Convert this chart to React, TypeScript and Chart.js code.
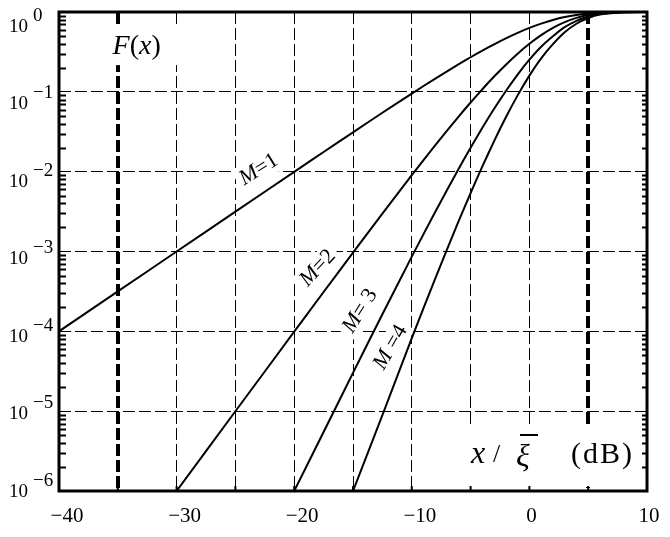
import React, { useEffect, useRef } from 'react';
import { Chart, registerables } from 'chart.js';

Chart.register(...registerables);

// x / xi-bar in dB
const DB = [-40, -35, -30, -25, -20, -17.5, -15, -12.5, -10, -8, -6, -5, -4, -3, -2, -1, 0, 1, 2, 3, 4, 5, 6, 8, 10];
const M1 = [1.0e-4, 3.16e-4, 1.0e-3, 3.16e-3, 9.95e-3, 1.763e-2, 3.11e-2, 5.47e-2, 9.52e-2, 0.1466, 0.2221, 0.2711, 0.3284, 0.3942, 0.4679, 0.5481, 0.6321, 0.7161, 0.7951, 0.864, 0.9189, 0.9577, 0.9813, 0.9982, 0.99995];
const M2 = [null, null, 1.0e-6, 9.97e-6, 9.9e-5, 3.11e-4, 9.69e-4, 2.99e-3, 9.06e-3, 2.148e-2, 4.935e-2, 7.351e-2, 0.1078, 0.1554, 0.2189, 0.3005, 0.3996, 0.5128, 0.6321, 0.7466, 0.8443, 0.9171, 0.963, 0.9964, 0.9999];
const M3 = [null, null, null, null, 1.0e-6, 5.48e-6, 3.02e-5, 1.635e-4, 8.62e-4, 3.15e-3, 1.096e-2, 1.993e-2, 3.541e-2, 6.125e-2, 0.1025, 0.1647, 0.2526, 0.3672, 0.497, 0.645, 0.7758, 0.8783, 0.945, 0.9946, 0.99985];
const M4 = [null, null, null, null, null, null, 1.0e-6, 8.94e-6, 8.2e-5, 4.62e-4, 2.435e-3, 5.4e-3, 1.163e-2, 2.415e-2, 4.794e-2, 9.03e-2, 0.1597, 0.2629, 0.3951, 0.5573, 0.7129, 0.8411, 0.9274, 0.9927, 0.9998];

const SERIES = [M1, M2, M3, M4];
const CURVE_LABELS = ['M=1', 'M=2', 'M= 3', 'M =4'];
// label anchor (dB, F) and text angle (deg)
const LABEL_X = [-23, -18, -14.4, -11.8];
const LABEL_Y = [1.06e-2, 6.2e-4, 1.8e-4, 6.3e-5];
const LABEL_ANGLE = [-32, -47, -58, -60];

const X_MIN = -40;
const X_MAX = 10;
const X_STEP = 5;
const X_LABELS = [-40, -30, -20, -10, 0, 10];
const THICK_X = [-35, 5];
const Y_DECADES = [1e-6, 1e-5, 1e-4, 1e-3, 1e-2, 1e-1, 1];
const Y_EXP = ['−6', '−5', '−4', '−3', '−2', '−1', '0'];

const SERIF = '"Liberation Serif", "Times New Roman", serif';

function drawPieces(ctx: CanvasRenderingContext2D, pieces: { t: string; f: string }[], cx: number, cy: number, angleDeg: number, bg: boolean) {
  ctx.save();
  ctx.translate(cx, cy);
  ctx.rotate((angleDeg * Math.PI) / 180);
  let w = 0;
  const widths = pieces.map((p) => {
    ctx.font = p.f;
    const m = ctx.measureText(p.t).width;
    w += m;
    return m;
  });
  if (bg) {
    ctx.fillStyle = '#fff';
    ctx.fillRect(-w / 2 - 4, -12, w + 8, 24);
  }
  ctx.fillStyle = '#000';
  ctx.textBaseline = 'middle';
  ctx.textAlign = 'left';
  let x = -w / 2;
  pieces.forEach((p, i) => {
    ctx.font = p.f;
    ctx.fillText(p.t, x, 0);
    x += widths[i];
  });
  ctx.restore();
}

const decoPlugin = {
  id: 'deco',
  beforeDatasetsDraw(chart: any) {
    const { ctx, chartArea: a, scales } = chart;
    const xs = scales.x;
    const ys = scales.y;
    ctx.save();
    // F(x) label
    const fx = xs.getPixelForValue(-33.4);
    const fy = ys.getPixelForValue(Math.pow(10, -0.44));
    ctx.fillStyle = '#fff';
    ctx.fillRect(fx - 26, fy - 20, 70, 38);
    drawPieces(ctx, [
      { t: 'F', f: `italic 28px ${SERIF}` },
      { t: '(', f: `28px ${SERIF}` },
      { t: 'x', f: `italic 28px ${SERIF}` },
      { t: ')', f: `28px ${SERIF}` },
    ], fx, fy, 0, false);

    // curve labels
    SERIES.forEach((_, i) => {
      const px = xs.getPixelForValue(LABEL_X[i]);
      const py = ys.getPixelForValue(LABEL_Y[i]);
      const txt = CURVE_LABELS[i];
      const pieces = [
        { t: 'M', f: `italic 22px ${SERIF}` },
        { t: txt.slice(1), f: `22px ${SERIF}` },
      ];
      drawPieces(ctx, pieces, px, py, LABEL_ANGLE[i], true);
    });

    // axis title box bottom-right
    ctx.fillStyle = '#fff';
    ctx.fillRect(a.right - 200, a.bottom - 63, 200, 59);
    const base = a.bottom - 28;
    ctx.fillStyle = '#000';
    ctx.textBaseline = 'alphabetic';
    ctx.textAlign = 'left';
    ctx.font = `italic 32px ${SERIF}`;
    ctx.fillText('x', a.right - 176, base);
    ctx.font = `26px ${SERIF}`;
    ctx.fillText('/', a.right - 154, base - 1);
    ctx.font = `italic 32px ${SERIF}`;
    ctx.fillText('ξ', a.right - 131, base + 3);
    ctx.lineWidth = 2;
    ctx.strokeStyle = '#000';
    ctx.beginPath();
    ctx.moveTo(a.right - 127, base - 28);
    ctx.lineTo(a.right - 109, base - 28);
    ctx.stroke();
    ctx.font = `30px ${SERIF}`;
    (ctx as any).letterSpacing = '2px';
    ctx.fillText('(dB)', a.right - 76, base);
    (ctx as any).letterSpacing = '0px';
    ctx.restore();
  },
  afterDraw(chart: any) {
    const { ctx, chartArea: a, scales } = chart;
    const xs = scales.x;
    const ys = scales.y;
    ctx.save();
    ctx.setLineDash([]);
    ctx.strokeStyle = '#000';
    // minor ticks on left and right
    ctx.lineWidth = 2;
    ctx.beginPath();
    for (let e = -6; e < 0; e++) {
      for (let k = 2; k <= 9; k++) {
        const py = Math.round(ys.getPixelForValue(k * Math.pow(10, e))) + 0.5;
        ctx.moveTo(a.left, py);
        ctx.lineTo(a.left + 7, py);
        ctx.moveTo(a.right, py);
        ctx.lineTo(a.right - 5, py);
      }
    }
    // bottom ticks
    for (let v = X_MIN + X_STEP; v < X_MAX; v += X_STEP) {
      const px = xs.getPixelForValue(v);
      ctx.moveTo(px, a.bottom);
      ctx.lineTo(px, a.bottom - 5);
    }
    ctx.stroke();
    // frame
    ctx.lineWidth = 3;
    ctx.strokeRect(a.left, a.top, a.right - a.left, a.bottom - a.top);

    // y labels
    ctx.fillStyle = '#000';
    ctx.textAlign = 'left';
    ctx.textBaseline = 'alphabetic';
    Y_DECADES.forEach((v, i) => {
      const py = ys.getPixelForValue(v);
      const base = a.top + 20 + (py - a.top) * 0.97;
      ctx.font = `19px ${SERIF}`;
      ctx.fillText('10', 9, base);
      ctx.font = `19px ${SERIF}`;
      ctx.fillText(Y_EXP[i], 33, base - 11);
    });
    // x labels
    ctx.textAlign = 'center';
    ctx.font = `21px ${SERIF}`;
    X_LABELS.forEach((v) => {
      const px = xs.getPixelForValue(v);
      const txt = v < 0 ? '−' + Math.abs(v) : String(v);
      ctx.fillText(txt, px + (v < 0 ? 8 : 2), a.bottom + 31);
    });
    ctx.restore();
  },
};

export default function App() {
  const ref = useRef<HTMLCanvasElement | null>(null);
  useEffect(() => {
    if (!ref.current) return;
    const isEdge = (v: number) => v === X_MIN || v === X_MAX;
    const chart = new Chart(ref.current, {
      type: 'line',
      data: {
        labels: DB,
        datasets: SERIES.map((s, i) => ({
          label: CURVE_LABELS[i],
          data: DB.map((x, j) => ({ x, y: s[j] as any })),
          borderColor: '#000',
          borderWidth: 2,
          pointRadius: 0,
          tension: 0.2,
          fill: false,
          spanGaps: false,
        })),
      },
      options: {
        animation: false,
        responsive: false,
        maintainAspectRatio: false,
        layout: { padding: { left: 0, right: 23, top: 12, bottom: 0 } },
        plugins: { legend: { display: false }, tooltip: { enabled: false } },
        scales: {
          x: {
            type: 'linear',
            min: X_MIN,
            max: X_MAX,
            ticks: { display: false, stepSize: X_STEP },
            grid: {
              drawTicks: false,
              color: (c: any) => (c.tick && isEdge(c.tick.value) ? 'rgba(0,0,0,0)' : '#000'),
              lineWidth: (c: any) => (c.tick && THICK_X.includes(c.tick.value) ? 4 : 1),
            },
            border: { display: false, dash: [12, 4] },
            afterFit: (s: any) => {
              s.height = 46;
            },
          },
          y: {
            type: 'logarithmic',
            min: 1e-6,
            max: 1,
            ticks: { display: false },
            afterBuildTicks: (s: any) => {
              s.ticks = Y_DECADES.map((v) => ({ value: v }));
            },
            grid: {
              drawTicks: false,
              color: (c: any) => (c.tick && (c.tick.value === 1 || c.tick.value === 1e-6) ? 'rgba(0,0,0,0)' : '#000'),
              lineWidth: 1,
            },
            border: { display: false, dash: [12, 4] },
            afterFit: (s: any) => {
              s.width = 59;
            },
          },
        },
      },
      plugins: [decoPlugin],
    } as any);
    return () => chart.destroy();
  }, []);
  return (
    <div style={{ position: 'fixed', left: 0, top: 0, width: 670, height: 537, background: '#fff' }}>
      <canvas ref={ref} width={670} height={537} style={{ display: 'block', width: 670, height: 537 }} />
    </div>
  );
}
